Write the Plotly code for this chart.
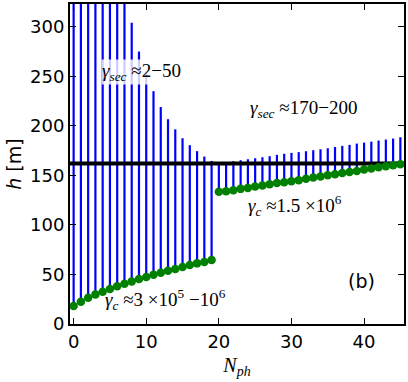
import plotly.graph_objects as go

# photon number index
n_ph = list(range(46))

# height of the lower end of each line (green dots), m
h_low = [18.1, 22.5, 26.5, 29.9, 32.6, 35.3, 38.0, 40.7, 43.0, 45.4,
         47.4, 49.7, 51.7, 53.7, 55.4, 57.5, 59.5, 61.2, 62.5, 64.5,
         133.4, 134.0, 135.0, 136.4, 137.4, 138.8, 139.8, 141.1, 142.4, 143.1,
         144.1, 145.2, 146.5, 147.9, 148.9, 150.2, 151.2, 152.5, 153.5, 154.5,
         155.9, 156.9, 158.3, 159.3, 160.3, 161.3]

# height of the upper end of each line, m
h_high = [2600, 1500, 1000, 760, 600, 480, 400, 345, 304, 275,
          254, 235, 219, 206.7, 196.5, 187.5, 180.5, 174.5, 169, 164.6,
          162.0, 163.0, 164.3, 165.3, 166.3, 167.3, 168.3, 169.4, 170.7, 171.8,
          172.7, 173.5, 174.4, 175.4, 176.4, 177.4, 178.7, 179.8, 180.8, 182.1,
          183.1, 184.1, 185.2, 186.2, 187.2, 188.5]

h_ref = 162
x_range = [-0.5, 45.5]

serif = "Liberation Serif"
sans = "DejaVu Sans"

# vertical segments
seg_x, seg_y = [], []
for n, lo, hi in zip(n_ph, h_low, h_high):
    seg_x += [n, n, None]
    seg_y += [lo, hi, None]

fig = go.Figure()
fig.add_trace(go.Scatter(x=seg_x, y=seg_y, mode="lines",
                         line=dict(color="#0000ff", width=2.2), hoverinfo="skip"))
fig.add_trace(go.Scatter(x=x_range, y=[h_ref, h_ref], mode="lines",
                         line=dict(color="black", width=4)))
fig.add_trace(go.Scatter(x=n_ph, y=h_low, mode="markers",
                         marker=dict(color="#008000", size=8.5, line=dict(width=0))))

# text labels
fig.add_annotation(x=9.3, y=254, text="<i>γ<sub>sec</sub></i> ≈2−50", showarrow=False,
                   font=dict(family=serif, size=19, color="black"),
                   bgcolor="rgba(255,255,255,0.8)", borderpad=0)
fig.add_annotation(x=31.6, y=217, text="<i>γ<sub>sec</sub></i> ≈170−200", showarrow=False,
                   font=dict(family=serif, size=19, color="black"))
fig.add_annotation(x=30.5, y=120, text="<i>γ<sub>c</sub></i> ≈1.5 ×10<sup>6</sup>", showarrow=False,
                   font=dict(family=serif, size=19, color="black"))
fig.add_annotation(x=12.6, y=25, text="<i>γ<sub>c</sub></i> ≈3 ×10<sup>5</sup> −10<sup>6</sup>",
                   showarrow=False, font=dict(family=serif, size=19, color="black"))
fig.add_annotation(x=39.6, y=43, text="(b)", showarrow=False,
                   font=dict(family=sans, size=19, color="black"))

axis_style = dict(showline=True, linecolor="black", linewidth=2, mirror="ticks",
                  ticks="inside", ticklen=6, tickwidth=1, tickcolor="black",
                  showgrid=False, zeroline=False, automargin=False,
                  tickfont=dict(family=sans, size=18, color="black"))

fig.update_xaxes(range=x_range, tickvals=[0, 10, 20, 30, 40],
                 title=dict(text="<i>N<sub>ph</sub></i>", font=dict(family=serif, size=20, color="black"),
                            standoff=7),
                 **axis_style)
fig.update_yaxes(range=[0, 323], tickvals=[0, 50, 100, 150, 200, 250, 300],
                 title=dict(text="<i>h</i> [m]", font=dict(family=sans, size=19, color="black"),
                            standoff=3),
                 **axis_style)

fig.update_layout(width=408, height=382, showlegend=False,
                  margin=dict(l=70, r=4, t=4, b=58),
                  plot_bgcolor="white", paper_bgcolor="white")

# page body has a default margin; drop it so the figure sits at the window corner
fig.write_html("out.html", config={"displayModeBar": False},
               post_script="document.body.style.margin='0';")
